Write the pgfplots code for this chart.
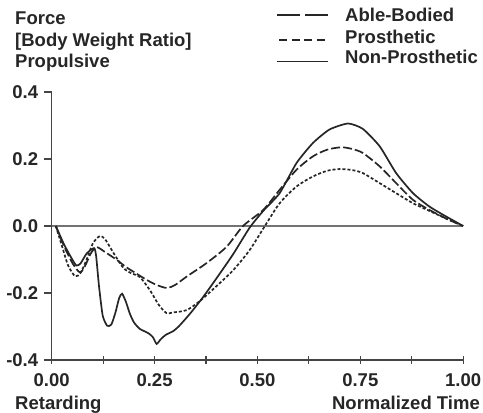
\documentclass[border=0pt]{standalone}
\usepackage{pgfplots}
\pgfplotsset{compat=1.18}
\usepackage{fontspec}
\setmainfont{Liberation Sans}

\definecolor{ink}{HTML}{262626}
\definecolor{axisgray}{HTML}{444444}

\begin{document}
\begin{tikzpicture}[font=\fontsize{18.5}{21}\selectfont\bfseries]
\path[use as bounding box] (0,0) rectangle (483pt,413pt);

\begin{axis}[
  scale only axis,
  at={(51.7pt,53pt)}, anchor=south west,
  width=411.5pt, height=268pt,
  xmin=0, xmax=1, ymin=-0.4, ymax=0.4,
  axis x line=bottom, axis y line=left,
  axis line style={-, line width=1.2pt, draw=axisgray},
  clip=false,
  xtick={0,0.25,0.5,0.75,1},
  minor xtick={0.125,0.375,0.625,0.875},
  ytick={-0.4,-0.2,0,0.2,0.4},
  x tick style={line width=1.1pt, draw=axisgray},
  y tick style={line width=1.1pt, draw=axisgray},
  xtick align=center, ytick align=outside,
  major tick length=8pt, minor tick length=8pt,
  tick label style={font=\fontsize{18.5}{21}\selectfont\bfseries, text=ink},
  /pgf/number format/assume math mode=true,
  x tick label style={/pgf/number format/fixed, /pgf/number format/fixed zerofill, /pgf/number format/precision=2, yshift=-6pt},
  y tick label style={/pgf/number format/fixed, /pgf/number format/fixed zerofill, /pgf/number format/precision=1, xshift=-2pt},
]

% zero line
\addplot[line width=1.3pt, draw=black!55] coordinates {(0,0) (1,0)};

% Able-Bodied (long dash)
\addplot[ink, line width=1.7pt, smooth, tension=0.45, dash pattern=on 9pt off 3pt] coordinates {
(0.01,0) (0.03,-0.06) (0.05,-0.11) (0.068,-0.138) (0.08,-0.122) (0.095,-0.082)
(0.109,-0.063) (0.13,-0.078) (0.158,-0.101) (0.18,-0.122) (0.198,-0.136)
(0.231,-0.161) (0.255,-0.176) (0.28,-0.185) (0.30,-0.176) (0.328,-0.151)
(0.376,-0.111) (0.425,-0.062) (0.465,0.0) (0.514,0.048) (0.554,0.108)
(0.595,0.168) (0.635,0.208) (0.67,0.228) (0.704,0.235) (0.73,0.230)
(0.756,0.218) (0.797,0.178) (0.837,0.128) (0.878,0.078) (0.918,0.048)
(0.959,0.022) (1.0,0)
};

% Prosthetic (short dash)
\addplot[ink, line width=1.7pt, smooth, tension=0.45, dash pattern=on 3pt off 2pt] coordinates {
(0.01,0) (0.025,-0.06) (0.04,-0.118) (0.057,-0.150) (0.07,-0.140) (0.085,-0.100)
(0.10,-0.052) (0.117,-0.030) (0.13,-0.040) (0.15,-0.080) (0.174,-0.125)
(0.195,-0.142) (0.214,-0.152) (0.239,-0.192) (0.26,-0.235) (0.279,-0.260)
(0.295,-0.258) (0.328,-0.251) (0.36,-0.224) (0.40,-0.180) (0.441,-0.132)
(0.481,-0.072) (0.518,0.0) (0.554,0.068) (0.595,0.118) (0.635,0.148)
(0.67,0.165) (0.70,0.170) (0.73,0.167) (0.756,0.158) (0.797,0.128)
(0.837,0.098) (0.878,0.068) (0.918,0.045) (0.959,0.022) (1.0,0)
};

% Non-Prosthetic (solid)
\addplot[ink, line width=1.7pt, smooth, tension=0.35] coordinates {
(0.01,0) (0.03,-0.055) (0.05,-0.10) (0.06,-0.118) (0.07,-0.112) (0.085,-0.082)
(0.103,-0.066) (0.108,-0.09) (0.115,-0.18) (0.124,-0.268) (0.135,-0.298)
(0.145,-0.294) (0.155,-0.258) (0.164,-0.215) (0.171,-0.202) (0.18,-0.225)
(0.19,-0.262) (0.20,-0.288) (0.214,-0.307) (0.235,-0.320) (0.246,-0.332)
(0.255,-0.352) (0.265,-0.338) (0.277,-0.325) (0.295,-0.314) (0.31,-0.298)
(0.336,-0.262) (0.368,-0.212) (0.40,-0.157) (0.441,-0.084) (0.481,-0.005)
(0.514,0.045) (0.554,0.098) (0.595,0.188) (0.635,0.248) (0.675,0.288)
(0.72,0.306) (0.756,0.290) (0.797,0.238) (0.837,0.158) (0.878,0.098)
(0.918,0.058) (0.959,0.028) (1.0,0)
};
\end{axis}

% y-axis title, top left
\node[anchor=base west, text=ink, inner sep=0pt] at (15pt,388pt) {Force};
\node[anchor=base west, text=ink, inner sep=0pt] at (15pt,366.5pt) {[Body Weight Ratio]};
\node[anchor=base west, text=ink, inner sep=0pt] at (15pt,345pt) {Propulsive};

% legend
\draw[ink, line width=1.4pt, dash pattern=on 23pt off 5pt] (277pt,398pt) -- (328pt,398pt);
\draw[ink, line width=1.4pt, dash pattern=on 8pt off 4.5pt] (279pt,373pt) -- (328pt,373pt);
\draw[ink, line width=1.4pt] (277pt,351.3pt) -- (328pt,351.3pt);
\node[anchor=base west, text=ink, inner sep=0pt] at (345pt,391.3pt) {Able-Bodied};
\node[anchor=base west, text=ink, inner sep=0pt] at (345pt,369.7pt) {Prosthetic};
\node[anchor=base west, text=ink, inner sep=0pt] at (345pt,349.7pt) {Non-Prosthetic};

% x-axis captions
\node[anchor=base west, text=ink, inner sep=0pt] at (15pt,3pt) {Retarding};
\node[anchor=base east, text=ink, inner sep=0pt] at (480pt,3pt) {Normalized Time};
\end{tikzpicture}
\end{document}
